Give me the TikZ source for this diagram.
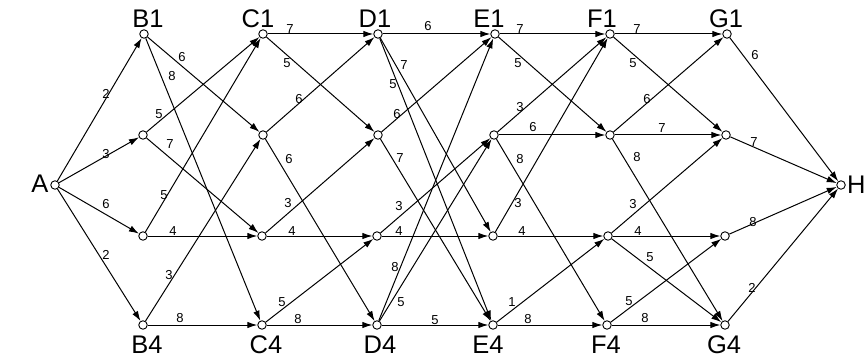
\documentclass[tikz,border=0pt]{standalone}
\usepackage{fontspec}
\setmainfont{Liberation Sans}
\usetikzlibrary{arrows.meta}
\begin{document}
\begin{tikzpicture}[x=1pt,y=-1pt,
  v/.style={circle,draw,line width=0.9pt,inner sep=0pt,minimum size=8.5pt},
  e/.style={-{Latex[length=10pt,width=6.5pt]},line width=1pt},
  lab/.style={font=\fontsize{13}{13}\selectfont,inner sep=0pt},
  nl/.style={font=\fontsize{25.5}{25.5}\selectfont,inner sep=0pt}]
\useasboundingbox (0,0) rectangle (866,363);
% vertices
\node[v] (A) at (55,185) {};
\foreach \n/\x/\y in {B1/144/34,B2/143/135,B3/143/236,B4/143/325,
  C1/263/34,C2/263/135,C3/262/236,C4/262/325,
  D1/378/34,D2/378/135,D3/377/236,D4/377/325,
  E1/495/34,E2/494/135,E3/493/236,E4/493/325,
  F1/610/34,F2/610/135,F3/608/236,F4/607/325,
  G1/727/34,G2/726/135,G3/725/236,G4/725/325}
  \node[v] (\n) at (\x,\y) {};
\node[v] (H) at (841,185) {};
% vertex labels
\node[nl] (tA) at (40,184) {A};
\node[nl,anchor=west] (tH) at (847,185) {H};
\foreach \t/\x in {B1/148,C1/258,D1/375,E1/489,F1/602,G1/726}
  \node[nl] (t\t) at (\x,19) {\t};
\foreach \t/\x in {B4/147,C4/266,D4/380,E4/488,F4/606,G4/724}
  \node[nl] (t\t) at (\x,345) {\t};
% edges with weights
\foreach \a/\b/\w/\x/\y in {
  A/B1/2/106/94, A/B2/3/106/154, A/B3/6/106/204, A/B4/2/106/255,
  B1/C2/6/182/57, B1/C4/8/172/76, B2/C1/5/159/114, B2/C3/7/170/144,
  B3/C1/5/164/195, B3/C3/4/173/231, B4/C2/3/169/275, B4/C4/8/180/318,
  C1/D1/7/290/29, C1/D2/5/287/63, C2/D1/6/299/99, C2/D4/6/289/159,
  C3/D2/3/288/203, C3/D3/4/292/231, C4/D3/5/282/302, C4/D4/8/298/319,
  D1/E1/6/428/26, D1/E3/7/404/65, D1/E4/5/393/84, D2/E1/6/397/114,
  D2/E4/7/400/158, D3/E2/3/399/206, D3/E3/4/399/231, D4/E1/8/395/267,
  D4/E2/5/401/302, D4/E4/5/435/320,
  E1/F1/7/520/29, E1/F2/5/518/63, E2/F1/3/520/107, E2/F2/6/533/127,
  E2/F4/8/520/159, E3/F1/3/518/203, E3/F3/4/522/231, E4/F3/1/512/302,
  E4/F4/8/528/319,
  F1/G1/7/637/29, F1/G2/5/633/63, F2/G1/6/647/99, F2/G2/7/662/128,
  F2/G4/8/637/157, F3/G2/3/633/204, F3/G3/4/638/231, F3/G4/5/650/257,
  F4/G3/5/629/301, F4/G4/8/645/318,
  G1/H/6/755/55, G2/H/7/754/142, G3/H/8/753/222, G4/H/2/752/288}
{
  \draw[e] (\a) -- (\b);
  \node[lab] (w\a\b) at (\x,\y) {\w};
}
\end{tikzpicture}
\end{document}
